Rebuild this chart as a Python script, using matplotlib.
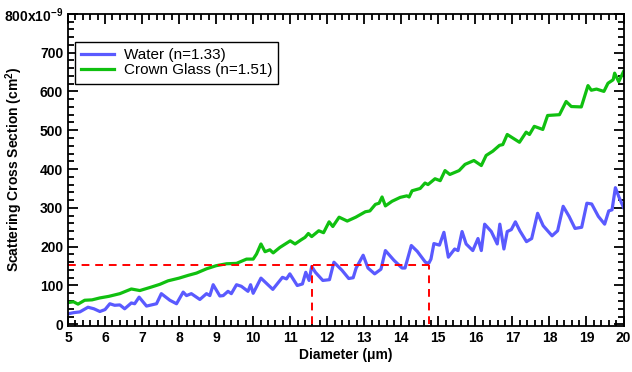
import matplotlib
matplotlib.use("Agg")
from matplotlib import pyplot as plt
from matplotlib.ticker import MultipleLocator, FixedLocator, FixedFormatter

# diameter (um) / scattering cross section (x1e-9 cm^2)
d_water = [5.00, 5.15, 5.32, 5.54, 5.70, 5.86, 6.00, 6.13, 6.26, 6.40, 6.53, 6.71, 6.80, 6.92,
           7.12, 7.39, 7.52, 7.75, 7.93, 8.11, 8.20, 8.33, 8.56, 8.74, 8.83, 8.92, 9.10, 9.19,
           9.32, 9.41, 9.55, 9.68, 9.86, 9.93, 10.00, 10.21, 10.53, 10.79, 10.90, 10.99, 11.19,
           11.33, 11.42, 11.51, 11.58, 11.68, 11.88, 12.06, 12.18, 12.40, 12.58, 12.70, 12.78,
           12.97, 13.10, 13.28, 13.45, 13.57, 13.80, 14.02, 14.10, 14.27, 14.43, 14.65, 14.74,
           14.80, 14.88, 15.03, 15.15, 15.27, 15.44, 15.53, 15.64, 15.75, 15.93, 16.07, 16.16,
           16.25, 16.43, 16.59, 16.66, 16.77, 16.86, 16.97, 17.08, 17.20, 17.38, 17.52, 17.68,
           17.83, 18.07, 18.22, 18.37, 18.53, 18.69, 18.87, 19.01, 19.14, 19.32, 19.49, 19.60,
           19.69, 19.78, 19.88, 20.00]
water = [27, 30, 32, 44, 40, 33, 38, 53, 49, 50, 40, 55, 53, 70,
         47, 53, 79, 62, 53, 83, 74, 79, 64, 79, 74, 102, 73, 74,
         85, 79, 102, 98, 85, 102, 80, 119, 90, 121, 117, 130, 100,
         104, 134, 113, 149, 134, 113, 115, 160, 139, 118, 120, 145,
         178, 145, 130, 142, 190, 165, 145, 145, 203, 188, 160, 157,
         168, 208, 204, 237, 173, 194, 190, 239, 207, 190, 221, 190,
         258, 239, 207, 258, 194, 239, 244, 264, 241, 213, 221, 286,
         254, 228, 241, 304, 278, 247, 250, 312, 310, 278, 258, 292,
         295, 352, 327, 301]

d_glass = [5.00, 5.15, 5.27, 5.45, 5.65, 5.86, 6.10, 6.40, 6.71, 6.94, 7.25, 7.48, 7.70, 8.00,
           8.24, 8.47, 8.74, 9.00, 9.28, 9.55, 9.82, 10.00, 10.09, 10.21, 10.32, 10.45, 10.54,
           10.72, 11.00, 11.13, 11.30, 11.40, 11.49, 11.58, 11.77, 11.90, 12.05, 12.15, 12.32,
           12.54, 12.77, 13.03, 13.15, 13.30, 13.40, 13.48, 13.57, 13.75, 13.97, 14.15, 14.21,
           14.29, 14.51, 14.64, 14.72, 14.91, 15.05, 15.18, 15.31, 15.56, 15.72, 15.96, 16.16,
           16.29, 16.47, 16.65, 16.74, 16.86, 17.19, 17.37, 17.46, 17.59, 17.82, 17.95, 18.27,
           18.45, 18.59, 18.86, 19.04, 19.13, 19.27, 19.47, 19.58, 19.72, 19.76, 19.87, 20.00]
glass = [56, 58, 52, 62, 63, 68, 72, 79, 91, 87, 96, 103, 112, 119,
         126, 132, 143, 151, 156, 157, 168, 168, 181, 207, 187, 192, 184,
         198, 215, 207, 218, 224, 234, 226, 241, 236, 264, 252, 276,
         266, 276, 290, 292, 309, 312, 328, 305, 317, 327, 331, 328,
         344, 350, 364, 360, 375, 370, 396, 386, 396, 412, 422, 409,
         435, 446, 461, 463, 489, 469, 495, 489, 510, 502, 538, 540,
         574, 561, 560, 615, 603, 606, 600, 621, 630, 647, 625, 651]

# red guide lines
guide_y = 153
guide_x = [11.6, 14.75]

y_ticks = [0, 100, 200, 300, 400, 500, 600, 700, 800]
y_labels = ['0', '100', '200', '300', '400', '500', '600', '700', r'800x10$^{\mathbf{-9}}$']

plt.rcParams['font.family'] = ['Liberation Sans', 'DejaVu Sans']
plt.rcParams['mathtext.fontset'] = 'custom'
plt.rcParams['mathtext.rm'] = 'Liberation Sans:bold'
plt.rcParams['mathtext.bf'] = 'Liberation Sans:bold'

fig = plt.figure(figsize=(6.32, 3.72), dpi=100)
ax = fig.add_axes([0.1076, 0.124, 0.879, 0.839])

ax.plot(d_water, water, color='#5a5aff', linewidth=2.3, label='Water (n=1.33)')
ax.plot(d_glass, glass, color='#10c010', linewidth=2.3, label='Crown Glass (n=1.51)')

ax.plot([5, guide_x[1]], [guide_y, guide_y], color='red', linestyle=(0, (4, 3)), linewidth=1.4)
for gx in guide_x:
    ax.plot([gx, gx], [0, guide_y], color='red', linestyle=(0, (4, 3)), linewidth=1.4)

ax.set_xlim(5, 20)
ax.set_ylim(-4, 800)
ax.xaxis.set_major_locator(MultipleLocator(1))
ax.xaxis.set_minor_locator(MultipleLocator(0.2))
ax.yaxis.set_major_locator(FixedLocator(y_ticks))
ax.yaxis.set_major_formatter(FixedFormatter(y_labels))
ax.yaxis.set_minor_locator(MultipleLocator(20))
ax.tick_params(which='both', direction='in', top=True, right=True, width=1.3)
ax.tick_params(which='major', length=7, labelsize=10)
ax.tick_params(which='minor', length=4)
for lbl in ax.get_xticklabels() + ax.get_yticklabels():
    lbl.set_fontweight('bold')
for s in ax.spines.values():
    s.set_linewidth(1.3)

ax.set_xlabel('Diameter (μm)', fontsize=10, fontweight='bold', labelpad=2)
ax.set_ylabel(r'Scattering Cross Section (cm$^{\mathbf{2}}$)', fontsize=10, fontweight='bold')
ax.yaxis.set_label_coords(-0.078, 0.5)

leg = ax.legend(loc='upper left', bbox_to_anchor=(0.012, 0.91), borderaxespad=0, fontsize=11,
                fancybox=False, framealpha=1, edgecolor='black', handlelength=2.2, borderpad=0.4,
                labelspacing=0.1, handletextpad=0.6)
leg.get_frame().set_linewidth(1.0)

fig.savefig('out.png', dpi=100)
